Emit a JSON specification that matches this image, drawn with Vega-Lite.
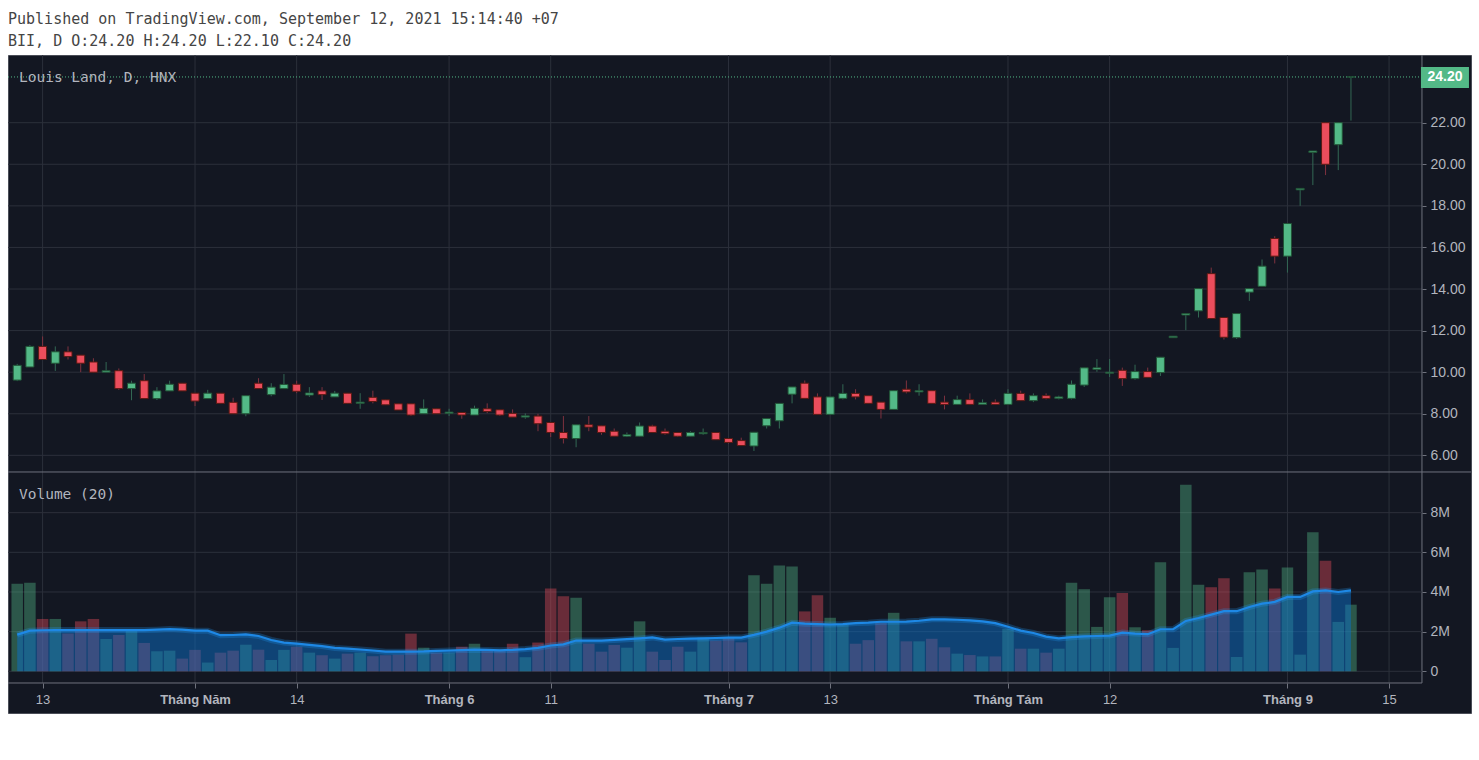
{
  "$schema": "https://vega.github.io/schema/vega-lite/v6.json",
  "width": 1463,
  "height": 658,
  "autosize": {"type": "none"},
  "padding": {"left": 8, "top": 55, "right": 8, "bottom": 47},
  "title": {
    "text": ["Published on TradingView.com, September 12, 2021 15:14:40 +07", "BII, D O:24.20 H:24.20 L:22.10 C:24.20"],
    "anchor": "start", "frame": "group", "font": "DejaVu Sans Mono", "fontSize": 15, "fontWeight": "normal",
    "color": "#454545", "lineHeight": 22, "offset": 6
  },
  "datasets": {
    "ohlc": [
      {"i":0,"d":"2021-04-09","o":9.62,"h":10.40,"l":9.57,"c":10.33,"v":4420000,"ma":1850000},
      {"i":1,"d":"2021-04-12","o":10.25,"h":11.30,"l":10.25,"c":11.24,"v":4470000,"ma":2050000},
      {"i":2,"d":"2021-04-13","o":11.24,"h":11.72,"l":10.61,"c":10.61,"v":2640000,"ma":2070000},
      {"i":3,"d":"2021-04-14","o":10.43,"h":11.24,"l":10.06,"c":10.98,"v":2640000,"ma":2080000},
      {"i":4,"d":"2021-04-15","o":10.98,"h":11.24,"l":10.61,"c":10.75,"v":1900000,"ma":2080000},
      {"i":5,"d":"2021-04-16","o":10.82,"h":10.82,"l":10.00,"c":10.43,"v":2520000,"ma":2080000},
      {"i":6,"d":"2021-04-19","o":10.49,"h":10.67,"l":10.00,"c":10.00,"v":2640000,"ma":2080000},
      {"i":7,"d":"2021-04-20","o":10.00,"h":10.49,"l":10.00,"c":10.07,"v":1630000,"ma":2080000},
      {"i":8,"d":"2021-04-22","o":10.07,"h":10.18,"l":9.15,"c":9.21,"v":1830000,"ma":2080000},
      {"i":9,"d":"2021-04-23","o":9.21,"h":9.59,"l":8.65,"c":9.47,"v":2070000,"ma":2080000},
      {"i":10,"d":"2021-04-26","o":9.59,"h":9.91,"l":8.73,"c":8.73,"v":1430000,"ma":2080000},
      {"i":11,"d":"2021-04-27","o":8.73,"h":9.28,"l":8.66,"c":9.10,"v":1010000,"ma":2100000},
      {"i":12,"d":"2021-04-28","o":9.10,"h":9.59,"l":9.10,"c":9.42,"v":1040000,"ma":2130000},
      {"i":13,"d":"2021-04-29","o":9.47,"h":9.47,"l":9.10,"c":9.10,"v":640000,"ma":2100000},
      {"i":14,"d":"2021-05-04","o":8.99,"h":8.99,"l":8.37,"c":8.61,"v":1080000,"ma":2050000},
      {"i":15,"d":"2021-05-05","o":8.73,"h":9.15,"l":8.73,"c":8.99,"v":440000,"ma":2050000},
      {"i":16,"d":"2021-05-06","o":8.99,"h":8.99,"l":8.50,"c":8.50,"v":940000,"ma":1820000},
      {"i":17,"d":"2021-05-07","o":8.55,"h":8.77,"l":8.00,"c":8.00,"v":1040000,"ma":1830000},
      {"i":18,"d":"2021-05-10","o":8.00,"h":8.87,"l":7.88,"c":8.87,"v":1340000,"ma":1860000},
      {"i":19,"d":"2021-05-11","o":9.47,"h":9.71,"l":9.21,"c":9.21,"v":1090000,"ma":1780000},
      {"i":20,"d":"2021-05-12","o":8.92,"h":9.47,"l":8.84,"c":9.28,"v":570000,"ma":1580000},
      {"i":21,"d":"2021-05-13","o":9.21,"h":9.91,"l":9.21,"c":9.41,"v":1080000,"ma":1450000},
      {"i":22,"d":"2021-05-14","o":9.42,"h":9.59,"l":8.99,"c":9.08,"v":1240000,"ma":1400000},
      {"i":23,"d":"2021-05-17","o":8.90,"h":9.28,"l":8.81,"c":9.00,"v":940000,"ma":1330000},
      {"i":24,"d":"2021-05-18","o":9.10,"h":9.28,"l":8.66,"c":8.92,"v":810000,"ma":1270000},
      {"i":25,"d":"2021-05-19","o":8.81,"h":9.10,"l":8.81,"c":8.99,"v":640000,"ma":1180000},
      {"i":26,"d":"2021-05-20","o":8.99,"h":8.99,"l":8.50,"c":8.50,"v":890000,"ma":1140000},
      {"i":27,"d":"2021-05-21","o":8.50,"h":8.99,"l":8.24,"c":8.56,"v":940000,"ma":1100000},
      {"i":28,"d":"2021-05-24","o":8.79,"h":9.11,"l":8.50,"c":8.59,"v":760000,"ma":1050000},
      {"i":29,"d":"2021-05-25","o":8.67,"h":8.67,"l":8.43,"c":8.43,"v":810000,"ma":990000},
      {"i":30,"d":"2021-05-26","o":8.48,"h":8.48,"l":8.18,"c":8.18,"v":840000,"ma":990000},
      {"i":31,"d":"2021-05-27","o":8.48,"h":8.48,"l":7.89,"c":7.94,"v":1900000,"ma":990000},
      {"i":32,"d":"2021-05-28","o":8.00,"h":8.69,"l":8.00,"c":8.26,"v":1190000,"ma":1000000},
      {"i":33,"d":"2021-05-31","o":8.24,"h":8.24,"l":8.00,"c":8.00,"v":940000,"ma":1030000},
      {"i":34,"d":"2021-06-01","o":8.02,"h":8.24,"l":7.89,"c":8.08,"v":940000,"ma":1050000},
      {"i":35,"d":"2021-06-02","o":8.06,"h":8.06,"l":7.76,"c":7.94,"v":1240000,"ma":1070000},
      {"i":36,"d":"2021-06-03","o":7.94,"h":8.39,"l":7.94,"c":8.26,"v":1390000,"ma":1090000},
      {"i":37,"d":"2021-06-04","o":8.24,"h":8.50,"l":8.03,"c":8.11,"v":1090000,"ma":1080000},
      {"i":38,"d":"2021-06-07","o":8.19,"h":8.19,"l":7.89,"c":7.94,"v":1090000,"ma":1060000},
      {"i":39,"d":"2021-06-08","o":8.02,"h":8.21,"l":7.84,"c":7.84,"v":1390000,"ma":1080000},
      {"i":40,"d":"2021-06-09","o":7.84,"h":8.02,"l":7.76,"c":7.90,"v":710000,"ma":1120000},
      {"i":41,"d":"2021-06-10","o":7.89,"h":8.00,"l":7.16,"c":7.52,"v":1450000,"ma":1180000},
      {"i":42,"d":"2021-06-11","o":7.58,"h":7.58,"l":6.88,"c":7.10,"v":4170000,"ma":1300000},
      {"i":43,"d":"2021-06-14","o":7.10,"h":7.89,"l":6.57,"c":6.81,"v":3780000,"ma":1360000},
      {"i":44,"d":"2021-06-15","o":6.81,"h":7.47,"l":6.39,"c":7.47,"v":3710000,"ma":1550000},
      {"i":45,"d":"2021-06-16","o":7.47,"h":7.89,"l":7.16,"c":7.36,"v":1390000,"ma":1550000},
      {"i":46,"d":"2021-06-17","o":7.42,"h":7.42,"l":6.99,"c":7.10,"v":990000,"ma":1550000},
      {"i":47,"d":"2021-06-18","o":7.16,"h":7.29,"l":6.92,"c":6.92,"v":1330000,"ma":1580000},
      {"i":48,"d":"2021-06-21","o":6.92,"h":7.10,"l":6.88,"c":7.00,"v":1190000,"ma":1620000},
      {"i":49,"d":"2021-06-22","o":6.92,"h":7.58,"l":6.92,"c":7.41,"v":2520000,"ma":1660000},
      {"i":50,"d":"2021-06-23","o":7.41,"h":7.47,"l":7.10,"c":7.10,"v":990000,"ma":1710000},
      {"i":51,"d":"2021-06-24","o":7.16,"h":7.29,"l":6.99,"c":7.04,"v":570000,"ma":1600000},
      {"i":52,"d":"2021-06-25","o":7.10,"h":7.10,"l":6.88,"c":6.92,"v":1240000,"ma":1630000},
      {"i":53,"d":"2021-06-28","o":6.92,"h":7.16,"l":6.92,"c":7.10,"v":990000,"ma":1650000},
      {"i":54,"d":"2021-06-29","o":7.04,"h":7.29,"l":6.99,"c":7.10,"v":1700000,"ma":1660000},
      {"i":55,"d":"2021-06-30","o":7.10,"h":7.10,"l":6.75,"c":6.75,"v":1550000,"ma":1680000},
      {"i":56,"d":"2021-07-01","o":6.81,"h":6.81,"l":6.57,"c":6.62,"v":1730000,"ma":1700000},
      {"i":57,"d":"2021-07-02","o":6.71,"h":6.85,"l":6.47,"c":6.47,"v":1460000,"ma":1700000},
      {"i":58,"d":"2021-07-05","o":6.45,"h":7.11,"l":6.21,"c":7.11,"v":4840000,"ma":1840000},
      {"i":59,"d":"2021-07-06","o":7.42,"h":7.77,"l":7.29,"c":7.77,"v":4410000,"ma":2000000},
      {"i":60,"d":"2021-07-07","o":7.66,"h":8.50,"l":7.29,"c":8.50,"v":5340000,"ma":2200000},
      {"i":61,"d":"2021-07-08","o":8.94,"h":9.29,"l":8.50,"c":9.29,"v":5280000,"ma":2450000},
      {"i":62,"d":"2021-07-09","o":9.47,"h":9.60,"l":8.74,"c":8.74,"v":3020000,"ma":2400000},
      {"i":63,"d":"2021-07-12","o":8.81,"h":8.98,"l":7.97,"c":7.97,"v":3840000,"ma":2380000},
      {"i":64,"d":"2021-07-13","o":7.97,"h":8.81,"l":7.97,"c":8.81,"v":2700000,"ma":2360000},
      {"i":65,"d":"2021-07-14","o":8.74,"h":9.42,"l":8.69,"c":8.98,"v":2350000,"ma":2380000},
      {"i":66,"d":"2021-07-15","o":8.98,"h":9.18,"l":8.69,"c":8.81,"v":1390000,"ma":2430000},
      {"i":67,"d":"2021-07-16","o":8.87,"h":8.87,"l":8.50,"c":8.50,"v":1570000,"ma":2450000},
      {"i":68,"d":"2021-07-19","o":8.56,"h":8.56,"l":7.77,"c":8.21,"v":2430000,"ma":2500000},
      {"i":69,"d":"2021-07-20","o":8.21,"h":9.11,"l":8.21,"c":9.11,"v":2950000,"ma":2500000},
      {"i":70,"d":"2021-07-21","o":9.18,"h":9.60,"l":8.98,"c":9.05,"v":1510000,"ma":2510000},
      {"i":71,"d":"2021-07-22","o":9.05,"h":9.42,"l":8.87,"c":9.11,"v":1510000,"ma":2550000},
      {"i":72,"d":"2021-07-23","o":9.11,"h":9.11,"l":8.50,"c":8.50,"v":1640000,"ma":2620000},
      {"i":73,"d":"2021-07-26","o":8.56,"h":8.87,"l":8.21,"c":8.45,"v":1210000,"ma":2620000},
      {"i":74,"d":"2021-07-27","o":8.45,"h":8.87,"l":8.45,"c":8.68,"v":890000,"ma":2600000},
      {"i":75,"d":"2021-07-28","o":8.68,"h":8.98,"l":8.45,"c":8.45,"v":820000,"ma":2570000},
      {"i":76,"d":"2021-07-29","o":8.45,"h":8.69,"l":8.45,"c":8.53,"v":750000,"ma":2520000},
      {"i":77,"d":"2021-07-30","o":8.56,"h":8.69,"l":8.45,"c":8.45,"v":750000,"ma":2430000},
      {"i":78,"d":"2021-08-02","o":8.45,"h":9.18,"l":8.45,"c":8.98,"v":2140000,"ma":2250000},
      {"i":79,"d":"2021-08-03","o":8.98,"h":9.11,"l":8.63,"c":8.63,"v":1140000,"ma":2050000},
      {"i":80,"d":"2021-08-04","o":8.63,"h":8.98,"l":8.56,"c":8.87,"v":1140000,"ma":1930000},
      {"i":81,"d":"2021-08-05","o":8.87,"h":8.98,"l":8.69,"c":8.74,"v":940000,"ma":1750000},
      {"i":82,"d":"2021-08-06","o":8.74,"h":8.87,"l":8.69,"c":8.81,"v":1140000,"ma":1660000},
      {"i":83,"d":"2021-08-09","o":8.74,"h":9.60,"l":8.69,"c":9.42,"v":4460000,"ma":1720000},
      {"i":84,"d":"2021-08-10","o":9.38,"h":10.21,"l":9.29,"c":10.21,"v":4140000,"ma":1760000},
      {"i":85,"d":"2021-08-11","o":10.13,"h":10.63,"l":10.02,"c":10.21,"v":2240000,"ma":1780000},
      {"i":86,"d":"2021-08-12","o":9.95,"h":10.63,"l":9.77,"c":10.00,"v":3740000,"ma":1800000},
      {"i":87,"d":"2021-08-13","o":10.09,"h":10.22,"l":9.34,"c":9.69,"v":3950000,"ma":1950000},
      {"i":88,"d":"2021-08-16","o":9.69,"h":10.36,"l":9.64,"c":10.03,"v":2220000,"ma":1900000},
      {"i":89,"d":"2021-08-17","o":10.03,"h":10.22,"l":9.75,"c":9.75,"v":2070000,"ma":1870000},
      {"i":90,"d":"2021-08-18","o":9.98,"h":10.72,"l":9.82,"c":10.72,"v":5500000,"ma":2120000},
      {"i":91,"d":"2021-08-19","o":11.66,"h":11.73,"l":11.66,"c":11.73,"v":1180000,"ma":2120000},
      {"i":92,"d":"2021-08-20","o":12.75,"h":12.82,"l":12.02,"c":12.82,"v":9410000,"ma":2540000},
      {"i":93,"d":"2021-08-23","o":12.95,"h":14.02,"l":12.63,"c":14.02,"v":4370000,"ma":2690000},
      {"i":94,"d":"2021-08-24","o":14.74,"h":15.03,"l":12.58,"c":12.58,"v":4240000,"ma":2860000},
      {"i":95,"d":"2021-08-25","o":12.63,"h":12.63,"l":11.57,"c":11.68,"v":4690000,"ma":3030000},
      {"i":96,"d":"2021-08-26","o":11.66,"h":12.82,"l":11.60,"c":12.82,"v":720000,"ma":3030000},
      {"i":97,"d":"2021-08-27","o":13.85,"h":14.02,"l":13.43,"c":14.02,"v":4990000,"ma":3240000},
      {"i":98,"d":"2021-08-30","o":14.13,"h":15.42,"l":14.13,"c":15.10,"v":5130000,"ma":3410000},
      {"i":99,"d":"2021-08-31","o":16.43,"h":16.54,"l":15.23,"c":15.58,"v":4180000,"ma":3500000},
      {"i":100,"d":"2021-09-01","o":15.58,"h":17.15,"l":14.79,"c":17.15,"v":5240000,"ma":3750000},
      {"i":101,"d":"2021-09-06","o":18.77,"h":18.84,"l":18.00,"c":18.84,"v":840000,"ma":3750000},
      {"i":102,"d":"2021-09-07","o":20.57,"h":20.64,"l":19.00,"c":20.64,"v":7010000,"ma":4030000},
      {"i":103,"d":"2021-09-08","o":22.00,"h":22.00,"l":19.48,"c":20.00,"v":5580000,"ma":4080000},
      {"i":104,"d":"2021-09-09","o":20.94,"h":22.00,"l":19.72,"c":22.00,"v":2490000,"ma":4000000},
      {"i":105,"d":"2021-09-10","o":24.20,"h":24.20,"l":22.10,"c":24.20,"v":3360000,"ma":4080000}
    ],
    "xticks": [{"i":2},{"i":14},{"i":22},{"i":34},{"i":42},{"i":56},{"i":64},{"i":78},{"i":86},{"i":100},{"i":108}],
    "pticks": [{"p":6},{"p":8},{"p":10},{"p":12},{"p":14},{"p":16},{"p":18},{"p":20},{"p":22}],
    "vticks": [{"v":0},{"v":2000000},{"v":4000000},{"v":6000000},{"v":8000000}]
  },
  "layer": [
    {
      "layer": [
        {
          "data": {"name": "xticks"},
          "mark": {"type": "rule", "color": "#2c303b", "strokeWidth": 1},
          "encoding": {
            "x": {"field": "i", "type": "quantitative", "scale": {"domain": [-0.724, 114.45], "nice": false, "zero": false, "padding": 0},
              "axis": {"orient": "bottom", "offset": -30, "title": null, "values": [2,14,22,34,42,56,64,78,86,100,108],
                "labelExpr": "datum.value==2?'13':datum.value==14?'Tháng Năm':datum.value==22?'14':datum.value==34?'Tháng 6':datum.value==42?'11':datum.value==56?'Tháng 7':datum.value==64?'13':datum.value==78?'Tháng Tám':datum.value==86?'12':datum.value==100?'Tháng 9':'15'",
                "labelFontWeight": {"condition": {"test": "datum.value==14||datum.value==34||datum.value==56||datum.value==78||datum.value==100", "value": "bold"}, "value": "normal"},
                "tickSize": 5, "labelPadding": 5, "labelFlush": false, "labelOverlap": false}},
            "y": {"datum": 25.256, "type": "quantitative", "scale": {"domain": [-6.393, 25.256], "nice": false, "zero": false, "padding": 0},
              "axis": {"orient": "right", "offset": -49, "title": null, "values": [6,8,10,12,14,16,18,20,22], "format": ".2f", "tickSize": 4, "labelPadding": 4}},
            "y2": {"datum": -4.95}
          }
        },
        {
          "data": {"name": "pticks"},
          "mark": {"type": "rule", "color": "#2c303b", "strokeWidth": 1},
          "encoding": {
            "y": {"field": "p", "type": "quantitative"},
            "x": {"datum": -0.724, "type": "quantitative"},
            "x2": {"datum": 110.59}
          }
        },
        {
          "data": {"values": [{}]},
          "mark": {"type": "rule", "color": "#6f727d", "strokeWidth": 1},
          "encoding": {"y": {"datum": 5.2, "type": "quantitative"}, "x": {"datum": -0.724, "type": "quantitative"}, "x2": {"datum": 114.45}}
        },
        {
          "data": {"values": [{}]},
          "mark": {"type": "rule", "color": "#6f727d", "strokeWidth": 1},
          "encoding": {"y": {"datum": -4.95, "type": "quantitative"}, "x": {"datum": -0.724, "type": "quantitative"}, "x2": {"datum": 110.59}}
        },
        {
          "data": {"values": [{}]},
          "mark": {"type": "rule", "color": "#6f727d", "strokeWidth": 1},
          "encoding": {"x": {"datum": 110.59, "type": "quantitative"}, "y": {"datum": 25.256, "type": "quantitative"}, "y2": {"datum": -4.95}}
        },
        {
          "data": {"values": [{}]},
          "mark": {"type": "rule", "color": "#53b987", "strokeWidth": 1, "strokeDash": [1, 2]},
          "encoding": {"y": {"datum": 24.2, "type": "quantitative"}, "x": {"datum": -0.724, "type": "quantitative"}, "x2": {"datum": 110.59}}
        },
        {
          "data": {"name": "ohlc"},
          "mark": {"type": "rule", "strokeWidth": 1},
          "encoding": {
            "x": {"field": "i", "type": "quantitative"},
            "y": {"field": "l", "type": "quantitative"},
            "y2": {"field": "h"},
            "color": {"condition": {"test": "datum.c >= datum.o", "value": "#336854"}, "value": "#7f323f"}
          }
        },
        {
          "data": {"name": "ohlc"},
          "mark": {"type": "bar", "width": 8, "strokeWidth": 1},
          "encoding": {
            "x": {"field": "i", "type": "quantitative"},
            "y": {"field": "o", "type": "quantitative"},
            "y2": {"field": "c"},
            "fill": {"condition": {"test": "datum.c >= datum.o", "value": "#53b987"}, "value": "#eb4d5c"},
            "stroke": {"condition": {"test": "datum.c >= datum.o", "value": "#225437"}, "value": "#5b1a13"}
          }
        },
        {
          "data": {"values": [{"t": "Louis Land, D, HNX"}]},
          "mark": {"type": "text", "align": "left", "baseline": "middle", "font": "DejaVu Sans Mono", "fontSize": 14.5, "color": "#b2b5be"},
          "encoding": {"x": {"datum": 0.14, "type": "quantitative"}, "y": {"datum": 24.15, "type": "quantitative"}, "text": {"field": "t"}}
        },
        {
          "data": {"values": [{}]},
          "mark": {"type": "rect", "color": "#53b987"},
          "encoding": {"x": {"datum": 110.51, "type": "quantitative"}, "x2": {"datum": 114.29}, "y": {"datum": 24.68, "type": "quantitative"}, "y2": {"datum": 23.67}}
        },
        {
          "data": {"values": [{"t": "24.20"}]},
          "mark": {"type": "text", "align": "center", "baseline": "middle", "font": "Liberation Sans", "fontSize": 14, "fontWeight": "bold", "color": "#ffffff"},
          "encoding": {"x": {"datum": 112.4, "type": "quantitative"}, "y": {"datum": 24.18, "type": "quantitative"}, "text": {"field": "t"}}
        }
      ]
    },
    {
      "layer": [
        {
          "data": {"name": "vticks"},
          "mark": {"type": "rule", "color": "#2c303b", "strokeWidth": 1},
          "encoding": {
            "y": {"field": "v", "type": "quantitative", "scale": {"domain": [-2103000, 31080000], "nice": false, "zero": false, "padding": 0},
              "axis": {"orient": "right", "offset": -49, "title": null, "values": [0, 2000000, 4000000, 6000000, 8000000],
                "labelExpr": "datum.value == 0 ? '0' : (datum.value / 1000000) + 'M'", "tickSize": 4, "labelPadding": 4}},
            "x": {"datum": -0.724, "type": "quantitative"},
            "x2": {"datum": 110.59}
          }
        },
        {
          "data": {"name": "ohlc"},
          "mark": {"type": "bar", "width": 11.5, "fillOpacity": 0.4},
          "encoding": {
            "x": {"field": "i", "type": "quantitative"},
            "y": {"field": "v", "type": "quantitative"},
            "y2": {"datum": 0},
            "fill": {"condition": {"test": "datum.c >= datum.o", "value": "#53b987"}, "value": "#eb4d5c"}
          }
        },
        {
          "data": {"name": "ohlc"},
          "mark": {"type": "area", "color": "#0b70c8", "opacity": 0.5},
          "encoding": {
            "x": {"field": "i", "type": "quantitative"},
            "y": {"field": "ma", "type": "quantitative"},
            "y2": {"datum": 0}
          }
        },
        {
          "data": {"name": "ohlc"},
          "mark": {"type": "line", "color": "#2196f3", "strokeWidth": 6, "opacity": 0.25},
          "encoding": {"x": {"field": "i", "type": "quantitative"}, "y": {"field": "ma", "type": "quantitative"}}
        },
        {
          "data": {"name": "ohlc"},
          "mark": {"type": "line", "color": "#1e88e5", "strokeWidth": 2.2},
          "encoding": {"x": {"field": "i", "type": "quantitative"}, "y": {"field": "ma", "type": "quantitative"}}
        },
        {
          "data": {"values": [{"t": "Volume (20)"}]},
          "mark": {"type": "text", "align": "left", "baseline": "middle", "font": "DejaVu Sans Mono", "fontSize": 14.5, "color": "#b2b5be"},
          "encoding": {"x": {"datum": 0.14, "type": "quantitative"}, "y": {"datum": 8890000, "type": "quantitative"}, "text": {"field": "t"}}
        }
      ]
    }
  ],
  "resolve": {"scale": {"y": "independent"}, "axis": {"y": "independent"}},
  "config": {
    "background": "#ffffff",
    "view": {"fill": "#131722", "stroke": "#4a4d57", "strokeWidth": 1},
    "axis": {"domain": false, "grid": false, "labelColor": "#b2b5be", "labelFont": "Liberation Sans", "labelFontSize": 13, "tickColor": "#6f727d"},
    "axisY": {"labelFontSize": 14}
  }
}
